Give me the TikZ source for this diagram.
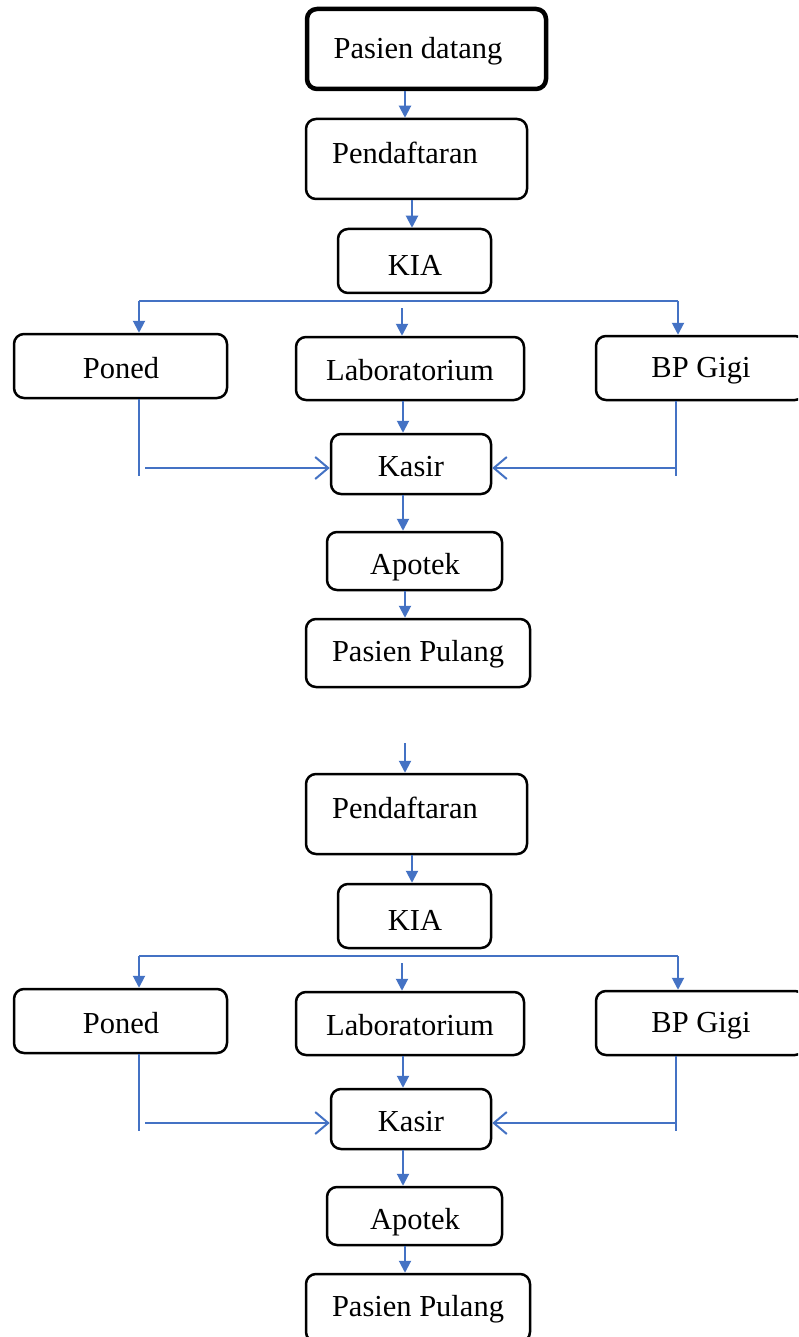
\documentclass[tikz,border=0pt]{standalone}
\usepackage{fontspec}
\setmainfont{Liberation Serif}
\usetikzlibrary{arrows.meta}
\definecolor{flowblue}{RGB}{68,114,196}
\begin{document}
\begin{tikzpicture}[x=1pt,y=-1pt,
  box/.style={draw=black, line width=2.5pt, rounded corners=10pt, inner sep=0pt},
  txt/.style={inner sep=0pt, font=\fontsize{30.5}{36}\selectfont},
  flow/.style={draw=flowblue, line width=2pt, -{Triangle[length=12pt,width=12pt]}},
  plain/.style={draw=flowblue, line width=2pt},
  side/.style={draw=flowblue, line width=2pt, -{Straight Barb[length=13pt,width=22pt]}}]
\useasboundingbox (0,0) rectangle (798,1337);
\clip (0,0) rectangle (798,1337);
\fill[white] (0,0) rectangle (798,1337);

\node[box, line width=4.5pt, minimum width=239pt, minimum height=80pt] (pd) at (426.5,49) {};
\node[txt] (pdt) at (418,51) {Pasien datang};

\foreach \s/\p in {0/a,655/b}{
  \node[box, minimum width=221pt, minimum height=80pt] (\p pf) at (416.5,{159+\s}) {};
  \node[txt] (\p pft) at (405,{153+\s}) {Pendaftaran};
  \node[box, minimum width=153pt, minimum height=64pt] (\p kia) at (414.5,{261+\s}) {};
  \node[txt] (\p kiat) at (415,{265+\s}) {KIA};
  \node[box, minimum width=213pt, minimum height=64pt] (\p po) at (120.5,{366+\s}) {};
  \node[txt] (\p pot) at (121,{368+\s}) {Poned};
  \node[box, minimum width=228pt, minimum height=63pt] (\p lab) at (410,{368.5+\s}) {};
  \node[txt] (\p labt) at (410,{370+\s}) {Laboratorium};
  \node[box, minimum width=209pt, minimum height=64pt] (\p bp) at (700.5,{368+\s}) {};
  \node[txt] (\p bpt) at (701,{371+\s}) {BP Gigi};
  \node[box, minimum width=160pt, minimum height=60pt] (\p ka) at (411,{464+\s}) {};
  \node[txt] (\p kat) at (411,{467+\s}) {Kasir};
  \node[box, minimum width=175pt, minimum height=58pt] (\p ap) at (414.5,{561+\s}) {};
  \node[txt] (\p apt) at (415,{567+\s}) {Apotek};
  \node[box, minimum width=224pt, minimum height=68pt] (\p pp) at (418,{653+\s}) {};
  \node[txt] (\p ppt) at (418,{654+\s}) {Pasien Pulang};

  \coordinate (\p bl) at (139,{301+\s});
  \coordinate (\p br) at (678,{301+\s});
  \coordinate (\p mt) at (402,{308+\s});
  \coordinate (\p pl) at (139,{476+\s});
  \coordinate (\p ph) at (145,{468+\s});
  \coordinate (\p rl) at (676,{476+\s});
  \coordinate (\p rh) at (676,{468+\s});

  \draw[flow] ([xshift=-4.5pt]\p pf.south) -- ([xshift=-2.5pt]\p kia.north);
  \draw[plain] (\p bl) -- (\p br);
  \draw[flow] (\p bl) -- ([xshift=18.5pt]\p po.north);
  \draw[flow] (\p mt) -- ([xshift=-8pt]\p lab.north);
  \draw[flow] (\p br) -- ([xshift=-22.5pt]\p bp.north);
  \draw[flow] ([xshift=-7pt]\p lab.south) -- ([xshift=-8pt]\p ka.north);
  \draw[plain] ([xshift=18.5pt]\p po.south) -- (\p pl);
  \draw[side] (\p ph) -- ([yshift=-4pt]\p ka.west);
  \draw[plain] ([xshift=-24.5pt]\p bp.south) -- (\p rl);
  \draw[side] (\p rh) -- ([yshift=-4pt]\p ka.east);
  \draw[flow] ([xshift=-8pt]\p ka.south) -- ([xshift=-11.5pt]\p ap.north);
  \draw[flow] ([xshift=-9.5pt]\p ap.south) -- ([xshift=-13pt]\p pp.north);
}

\draw[flow] ([xshift=-21.5pt]pd.south) -- ([xshift=-11.5pt]apf.north);
\coordinate (bin) at (405,743);
\draw[flow] (bin) -- ([xshift=-11.5pt]bpf.north);
\end{tikzpicture}
\end{document}
